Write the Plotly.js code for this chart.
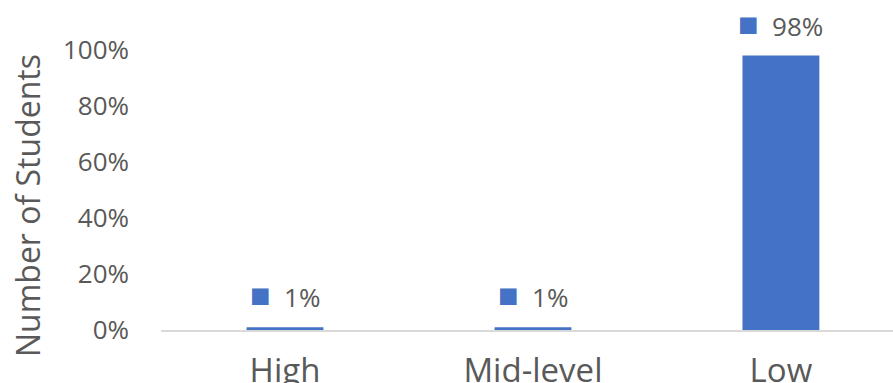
<!DOCTYPE html>
<html>
<head>
<meta charset="utf-8">
<script src="https://cdn.plot.ly/plotly-3.0.1.min.js"></script>
<style>html,body{margin:0;padding:0;background:#fff;}#chart{width:893px;height:383px;}</style>
</head>
<body>
<div id="chart"></div>
<script>
const categories = ["High", "Mid-level", "Low"];
const shares = [0.01, 0.01, 0.98];
const labelTexts = ["1%", "1%", "98%"];
const yTickVals = [0, 0.2, 0.4, 0.6, 0.8, 1.0];
const yTitle = "Number of Students";
const barColor = "#4472C4";
const textColor = "#595959";
const fontFam = 'Open Sans, sans-serif';

const trace = {
  type: 'bar',
  x: categories,
  y: shares,
  width: 0.31,
  marker: {color: barColor},
  hoverinfo: 'skip'
};

const annotations = categories.map((c, i) => ({
  x: c, y: shares[i], xref: 'x', yref: 'y',
  xanchor: 'center', yanchor: 'bottom', yshift: 8,
  showarrow: false,
  text: '<span style="color:' + barColor + ';font-size:34px">■</span>  ' + labelTexts[i],
  font: {family: fontFam, size: 26, color: textColor}
}));

annotations.push({
  xref: 'paper', yref: 'paper',
  x: -0.183, y: 0.40,
  xanchor: 'center', yanchor: 'middle',
  textangle: -90, showarrow: false,
  text: yTitle,
  font: {family: fontFam, size: 32, color: textColor}
});

const layout = {
  width: 893, height: 383,
  margin: {l: 161, r: 0, t: 20, b: 53},
  paper_bgcolor: '#fff', plot_bgcolor: '#fff',
  showlegend: false,
  font: {family: fontFam, color: textColor},
  annotations: annotations,
  xaxis: {
    range: [-0.5, 2.452],
    showgrid: false, zeroline: false,
    showline: true, linecolor: '#D9D9D9', linewidth: 2,
    ticks: '', tickfont: {size: 33, color: textColor},
    ticklabelstandoff: 10,
    automargin: false,
    fixedrange: true
  },
  yaxis: {
    range: [0, 1.107],
    tickvals: yTickVals,
    tickformat: '.0%',
    showgrid: false, zeroline: false, showline: false,
    ticks: '', tickfont: {size: 26, color: textColor},
    ticklabelstandoff: 31,
    automargin: false,
    fixedrange: true
  }
};

Plotly.newPlot('chart', [trace], layout, {displayModeBar: false, staticPlot: true});
</script>
</body>
</html>
